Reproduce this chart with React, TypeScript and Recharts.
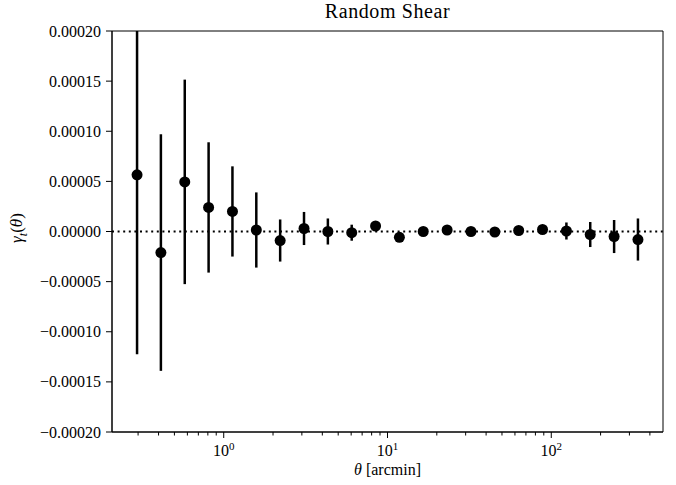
import { ScatterChart, Scatter, XAxis, YAxis, ErrorBar, ReferenceLine, ReferenceArea } from 'recharts';

// bin centres in arcmin
const theta = [0.2957, 0.4134, 0.5782, 0.8085, 1.1305, 1.581, 2.211, 3.092, 4.324, 6.046, 8.455,
    11.82, 16.53, 23.12, 32.33, 45.21, 63.24, 88.43, 123.7, 172.9, 241.9, 338.2];
const gammaT = [5.65e-5, -2.1e-5, 4.95e-5, 2.4e-5, 2.0e-5, 0.15e-5, -0.9e-5, 0.3e-5, 0.0, -0.12e-5, 0.55e-5,
    -0.58e-5, 0.0, 0.15e-5, 0.0, -0.05e-5, 0.1e-5, 0.2e-5, 0.05e-5, -0.3e-5, -0.5e-5, -0.8e-5];
const sigma = [17.9e-5, 11.8e-5, 10.2e-5, 6.5e-5, 4.5e-5, 3.75e-5, 2.1e-5, 1.65e-5, 1.3e-5, 0.8e-5, 0.45e-5,
    0.3e-5, 0.2e-5, 0.2e-5, 0.2e-5, 0.2e-5, 0.2e-5, 0.35e-5, 0.85e-5, 1.25e-5, 1.65e-5, 2.1e-5];

const xTicks = [0.3, 0.4, 0.5, 0.6, 0.7, 0.8, 0.9, 1, 2, 3, 4, 5, 6, 7, 8, 9, 10,
    20, 30, 40, 50, 60, 70, 80, 90, 100, 200, 300, 400];
const yTicks = [-0.0002, -0.00015, -0.0001, -0.00005, 0, 0.00005, 0.0001, 0.00015, 0.0002];

const X_DOMAIN = [0.2079, 481];
const Y_DOMAIN = [-0.0002, 0.0002];

// error bars are cut at the axes limits, like matplotlib does
const data = theta.map((t, i) => ({
    theta: t,
    g: gammaT[i],
    err: [Math.min(sigma[i], gammaT[i] - Y_DOMAIN[0]), Math.min(sigma[i], Y_DOMAIN[1] - gammaT[i])],
}));

const FONT = '"Liberation Serif", "Times New Roman", serif';

const XTick = (props: any) => {
    const { x, y, payload } = props;
    const lg = Math.log10(payload.value);
    const e = Math.round(lg);
    const major = Math.abs(lg - e) < 1e-6;
    return (
        <g>
            <line x1={x} x2={x} y1={y} y2={y + (major ? 6 : 3.5)} stroke="#000" strokeWidth={1} />
            {major && (
                <text x={x} y={y + 24} textAnchor="middle" fontFamily={FONT} fontSize={16} fill="#000">
                    10<tspan dy={-6.5} fontSize={11}>{e}</tspan>
                </text>
            )}
        </g>
    );
};

const YTick = (props: any) => {
    const { x, y, payload } = props;
    return (
        <g>
            <line x1={x} x2={x - 6} y1={y} y2={y} stroke="#000" strokeWidth={1} />
            <text x={x - 11} y={y + 5.5} textAnchor="end" fontFamily={FONT} fontSize={16} fill="#000">
                {payload.value.toFixed(5).replace('-', '\u2212')}
            </text>
        </g>
    );
};

export default function App() {
    return (
        <div style={{ position: 'absolute', left: 0, top: 0, width: 676, height: 485, background: '#fff' }}>
            <ScatterChart width={676} height={485} margin={{ top: 31, right: 13, bottom: 0, left: 0 }}>
                <XAxis
                    type="number"
                    dataKey="theta"
                    scale="log"
                    domain={X_DOMAIN}
                    allowDataOverflow
                    ticks={xTicks}
                    interval={0}
                    height={53}
                    tickLine={false}
                    tickSize={0}
                    tickMargin={0}
                    tick={<XTick />}
                    axisLine={{ stroke: '#000' }}
                />
                <YAxis
                    type="number"
                    dataKey="g"
                    domain={Y_DOMAIN}
                    allowDataOverflow
                    ticks={yTicks}
                    interval={0}
                    width={112}
                    tickLine={false}
                    tickSize={0}
                    tickMargin={0}
                    tick={<YTick />}
                    axisLine={{ stroke: '#000' }}
                />
                <ReferenceArea x1={X_DOMAIN[0]} x2={X_DOMAIN[1]} y1={Y_DOMAIN[0]} y2={Y_DOMAIN[1]} fill="none" stroke="#000" strokeWidth={1} />
                <ReferenceLine y={0} stroke="#000" strokeWidth={2} strokeDasharray="2 3.6" />
                <Scatter
                    data={data}
                    isAnimationActive={false}
                    shape={(p: any) => <circle cx={p.cx} cy={p.cy} r={5.5} fill="#000" />}
                >
                    <ErrorBar dataKey="err" direction="y" width={0} stroke="#000" strokeWidth={2.5} isAnimationActive={false} />
                </Scatter>
            </ScatterChart>
            <div style={{ position: 'absolute', left: 112, width: 551, top: 0, textAlign: 'center', fontFamily: FONT, fontSize: 20, letterSpacing: 0.6, color: '#000' }}>
                Random Shear
            </div>
            <div style={{ position: 'absolute', left: 112, width: 551, top: 461, textAlign: 'center', fontFamily: FONT, fontSize: 16, color: '#000' }}>
                <i>θ</i> [arcmin]
            </div>
            <div style={{ position: 'absolute', left: 19, top: 228, width: 0, height: 0 }}>
                <div style={{ position: 'absolute', transform: 'translate(-50%, -50%) rotate(-90deg)', whiteSpace: 'nowrap', fontFamily: FONT, fontSize: 17, color: '#000' }}>
                    <i>γ</i><sub style={{ fontSize: 12 }}><i>t</i></sub>(<i>θ</i>)
                </div>
            </div>
        </div>
    );
}
